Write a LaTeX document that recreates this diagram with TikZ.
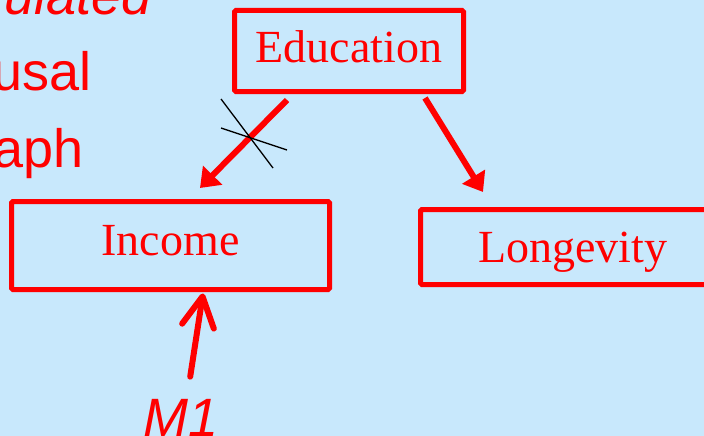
\documentclass[tikz,border=0pt]{standalone}
\usepackage{fontspec}
\setmainfont{Liberation Serif}
\setsansfont{Liberation Sans}
\usetikzlibrary{arrows.meta,calc}
\definecolor{slidebg}{RGB}{200,232,252}
\definecolor{slidered}{RGB}{255,0,0}

\begin{document}
\begin{tikzpicture}[x=1pt,y=-1pt,
  varbox/.style={draw=slidered, line width=5pt, rounded corners=1.5pt,
    text=slidered, font=\fontsize{46}{46}\selectfont, inner sep=0pt},
  causal/.style={draw=slidered, line width=6pt,
    -{Triangle[length=18pt,width=26pt]}},
  manip/.style={draw=slidered, line width=6pt, line cap=round,
    -{Straight Barb[length=30pt,width=32pt,round]}},
  slidetext/.style={text=slidered, font=\sffamily\fontsize{54}{54}\selectfont,
    inner sep=0pt},
  cutmark/.style={draw=black, line width=1.3pt}]

\useasboundingbox (0,0) rectangle (704,436);
\fill[slidebg] (0,0) rectangle (704,436);
\clip (0,0) rectangle (704,436);

% slide text running in from the left edge
\node[slidetext, font=\sffamily\itshape\fontsize{54}{54}\selectfont,
  anchor=base east] (w1) at (152,15) {ulated};
\node[slidetext, anchor=base east] (w2) at (91.5,90) {usal};
\node[slidetext, anchor=base east] (w3) at (84,167) {aph};

% variables
\node[varbox, minimum width=229pt, minimum height=81pt,
  text height=32pt, text depth=8pt] (edu) at (349,51) {Education};
\node[varbox, minimum width=318pt, minimum height=88pt,
  text height=30pt, text depth=11pt] (inc) at (170.5,245.5) {Income};
\node[varbox, minimum width=305pt, minimum height=75pt,
  text height=33pt, text depth=3pt] (lon) at (573,247) {Longevity};

% manipulation
\node[slidetext, font=\sffamily\itshape\fontsize{54}{54}\selectfont,
  anchor=base west] (m1) at (143,436) {M1};

% causal arrows
\draw[causal] ([shift={(-62,6)}]edu.south) -- ([shift={(29.5,-11)}]inc.north);
\draw[causal] ([shift={(76,4)}]edu.south) -- ([shift={(-90,-15)}]lon.north);
\draw[manip] ([shift={(9.5,-22)}]m1.north) -- ([shift={(32.5,1.5)}]inc.south);

% the severed edge
\draw[cutmark] (221,99) -- (273,168);
\draw[cutmark] (221,128) -- (287,150);
\end{tikzpicture}
\end{document}
